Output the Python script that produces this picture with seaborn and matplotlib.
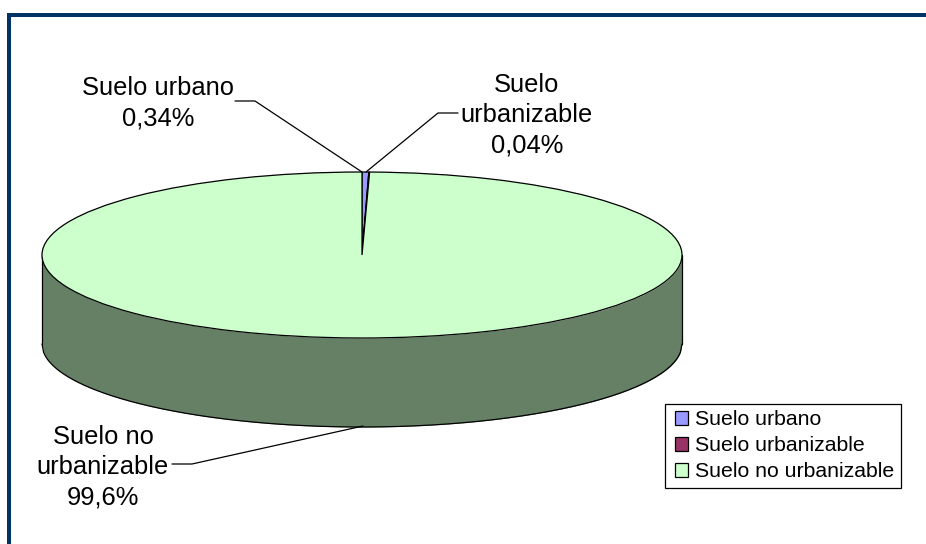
import matplotlib
matplotlib.use("Agg")
import matplotlib.pyplot as plt
import numpy as np
import seaborn as sns

labels = ["Suelo urbano", "Suelo urbanizable", "Suelo no urbanizable"]
values = [0.34, 0.04, 99.6]
colors = ["#9999FF", "#993366", "#CCFFCC"]
side_color = "#668066"

W, H = 926, 544
sns.set_theme(style="white")
plt.rcParams["font.family"] = ["Liberation Sans", "DejaVu Sans"]

fig = plt.figure(figsize=(W / 100, H / 100), dpi=100)

# overlay in pixel coordinates, for border and leader lines
over = fig.add_axes([0, 0, 1, 1], zorder=2)
over.set_xlim(0, W)
over.set_ylim(H, 0)
over.axis("off")

# pie axes: 320 px wide radius, 83 px high radius, centre at 362,255
cx, cy, rx, ry, depth = 362, 255, 320, 83, 89
xspan = 1.25
ax = fig.add_axes([(cx - rx * xspan) / W, 1 - (cy + ry * 2.2) / H,
                   2 * rx * xspan / W, ry * 3.4 / H], zorder=1)
wedges, _ = ax.pie(values, colors=colors, startangle=90, counterclock=False,
                   radius=1, wedgeprops=dict(edgecolor="black", linewidth=0.9, zorder=3))
ax.set_aspect("auto")
ax.set_xlim(-xspan, xspan)
ax.set_ylim(-2.2, 1.2)
d = depth / ry
xs = np.linspace(-1, 1, 400)
low = -np.sqrt(1 - xs ** 2)
ax.fill_between(xs, low, low - d, color=side_color, zorder=1, lw=0)
ax.plot(xs, low - d, color="black", lw=0.9, zorder=2)
ax.plot([-1, -1], [0, -d], color="black", lw=0.9, zorder=2)
ax.plot([1, 1], [0, -d], color="black", lw=0.9, zorder=2)

border = "#003366"
over.plot([9, 9, W], [H, 15, 15], color=border, lw=2.88, solid_joinstyle="miter", solid_capstyle="butt")

over.plot([235, 255, 362], [101, 101, 172], color="black", lw=0.9)
over.plot([366, 438, 458], [172, 113, 113], color="black", lw=0.9)
over.plot([172, 192, 363], [464, 464, 426], color="black", lw=0.9)

fs = 18.4
ls = 1.33
over.text(158, 103.5, "Suelo urbano\n0,34%", ha="center", va="center", fontsize=fs, linespacing=ls, color="black")
over.text(527, 115, "Suelo\nurbanizable\n0,04%", ha="center", va="center", fontsize=fs, linespacing=ls, color="black")
over.text(103, 467, "Suelo no\nurbanizable\n99,6%", ha="center", va="center", fontsize=fs, linespacing=ls, color="black")

leg = over.legend(wedges, labels, loc="upper left", bbox_to_anchor=(665 / W, 1 - 404 / H),
                  bbox_transform=fig.transFigure, fontsize=15.3, frameon=True, fancybox=False,
                  edgecolor="black", framealpha=1, borderpad=0.3, labelspacing=0.33,
                  handlelength=0.85, handleheight=0.62, handletextpad=0.26, borderaxespad=0,
                  labelcolor="black")
leg.get_frame().set_linewidth(0.9)
for h in leg.legend_handles:
    h.set_x(h.get_x() + 2.6)
    h.set_width(9.4)

fig.savefig("out.png", dpi=100, facecolor="white")
